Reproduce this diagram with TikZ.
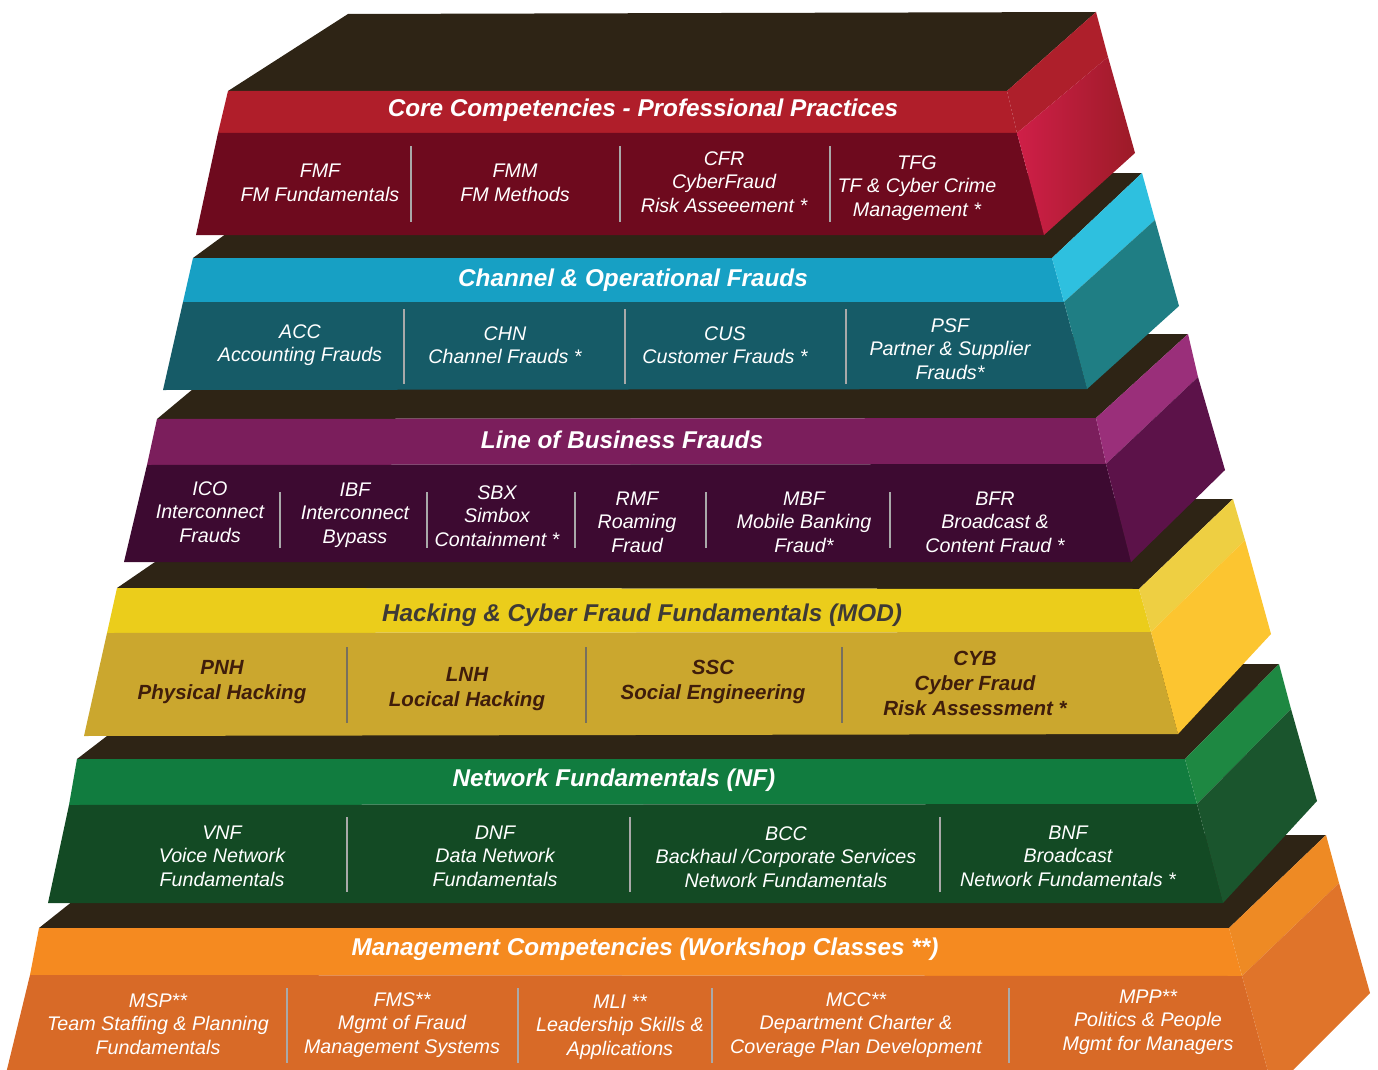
\documentclass[tikz,border=0pt]{standalone}
\usepackage{fontspec}
\setmainfont{Liberation Sans}
\usepackage{tikz}

\definecolor{topbrown}{HTML}{2E2415}
\definecolor{divgrey}{HTML}{A9A9A9}
\definecolor{divdark}{HTML}{77705E}
\definecolor{redhead}{HTML}{B01E2A}
\definecolor{redbody}{HTML}{6E0A1E}
\definecolor{redside}{HTML}{AE1F2B}
\definecolor{redlow}{HTML}{CF1F48}
\definecolor{redlowr}{HTML}{9C1B27}
\definecolor{tealhead}{HTML}{17A0C4}
\definecolor{tealbody}{HTML}{165B67}
\definecolor{tealside}{HTML}{2EC0DF}
\definecolor{teallow}{HTML}{1F7E84}
\definecolor{purphead}{HTML}{7B1E5C}
\definecolor{purpbody}{HTML}{3D0A31}
\definecolor{purpside}{HTML}{9A2F7A}
\definecolor{purplow}{HTML}{5C1249}
\definecolor{yelhead}{HTML}{EBCD1B}
\definecolor{yelbody}{HTML}{CBA72E}
\definecolor{yelside}{HTML}{EECF42}
\definecolor{yellow2}{HTML}{FCC530}
\definecolor{yeltext}{HTML}{3F1D0B}
\definecolor{yelhtext}{HTML}{3E3A36}
\definecolor{grnhead}{HTML}{117C3F}
\definecolor{grnbody}{HTML}{134A24}
\definecolor{grnside}{HTML}{1E8842}
\definecolor{grnlow}{HTML}{1A552D}
\definecolor{orahead}{HTML}{F58A20}
\definecolor{orabody}{HTML}{D86A27}
\definecolor{oraside}{HTML}{EE8A24}
\definecolor{oralow}{HTML}{E0742A}

\tikzset{
	topface/.style={fill=topbrown},
	headtext/.style={font=\fontsize{24.3}{29}\selectfont\bfseries\itshape, text=white, inner sep=0pt},
	bodytext/.style={font=\fontsize{19.7}{23.5}\selectfont\itshape, text=white, align=center, inner sep=0pt},
	modtext/.style={font=\fontsize{20.5}{25}\selectfont\bfseries\itshape, text=yeltext, align=center, inner sep=0pt},
	divider/.style={draw=divgrey, line width=2pt},
}

\begin{document}
\begin{tikzpicture}[x=1pt,y=-1pt]
	\clip (0,0) rectangle (1378,1070);

	% Management Competencies
	\fill[topface] (39,928) -- (1229,928) -- (1326,835) -- (156,835) -- cycle;
	\fill[orahead] (39,928) -- (1229,928) -- (1242,976) -- (30,975) -- cycle;
	\fill[orabody] (30,975) -- (1242,976) -- (1273,1090) -- (2,1090) -- cycle;
	\fill[oraside] (1229,928) -- (1326,835) -- (1339,883) -- (1242,976) -- cycle;
	\fill[oralow] (1242,976) -- (1339,883) -- (1370,993) -- (1273,1090) -- cycle;
	\foreach \x in {287,518,712,1009}
		\draw[divider] (\x,988) -- (\x,1063);
	\node[headtext] (mgmt) at (645,949) {Management Competencies (Workshop Classes **)};
	\node[bodytext] (msp) at (158,1024) {MSP**\\Team Staffing \& Planning\\Fundamentals};
	\node[bodytext] (fms) at (402,1025) {FMS**\\Mgmt of Fraud\\Management Systems};
	\node[bodytext] (mli) at (620,1027) {MLI **\\Leadership Skills \&\\Applications};
	\node[bodytext] (mcc) at (856,1025) {MCC**\\Department Charter \&\\Coverage Plan Development};
	\node[bodytext] (mpp) at (1148,1022) {MPP**\\Politics \& People\\Mgmt for Managers};

	% Network Fundamentals
	\fill[topface] (77,759) -- (1185,759) -- (1279,664) -- (201,664) -- cycle;
	\fill[grnhead] (77,759) -- (1185,759) -- (1197,804) -- (69,805) -- cycle;
	\fill[grnbody] (69,805) -- (1197,804) -- (1223,903) -- (48,903) -- cycle;
	\fill[grnside] (1185,759) -- (1279,664) -- (1291,709) -- (1197,804) -- cycle;
	\fill[grnlow] (1197,804) -- (1291,709) -- (1317,801) -- (1223,903) -- cycle;
	\foreach \x in {347,630,940}
		\draw[divider] (\x,817) -- (\x,892);
	\node[headtext] (netf) at (614,780) {Network Fundamentals (NF)};
	\node[bodytext] (vnf) at (222,856) {VNF\\Voice Network\\Fundamentals};
	\node[bodytext] (dnf) at (495,856) {DNF\\Data Network\\Fundamentals};
	\node[bodytext] (bcc) at (786,857) {BCC\\Backhaul /Corporate Services\\Network Fundamentals};
	\node[bodytext] (bnf) at (1068,856) {BNF\\Broadcast\\Network Fundamentals *};

	% Hacking & Cyber Fraud
	\fill[topface] (117,588) -- (1139,589) -- (1233,499) -- (247,499) -- cycle;
	\fill[yelhead] (117,588) -- (1139,589) -- (1151,632) -- (107,633) -- cycle;
	\fill[yelbody] (107,633) -- (1151,632) -- (1178,734) -- (84,736) -- cycle;
	\fill[yelside] (1139,589) -- (1233,499) -- (1245,540) -- (1151,632) -- cycle;
	\fill[yellow2] (1151,632) -- (1245,540) -- (1271,634) -- (1178,734) -- cycle;
	\foreach \x in {347,586,842}
		\draw[divider, draw=divdark] (\x,647) -- (\x,723);
	\node[headtext, text=yelhtext] (hack) at (642,615) {Hacking \& Cyber Fraud Fundamentals (MOD)};
	\node[modtext] (pnh) at (222,682) {PNH\\Physical Hacking};
	\node[modtext] (lnh) at (467,689) {LNH\\Locical Hacking};
	\node[modtext] (ssc) at (713,682) {SSC\\Social Engineering};
	\node[modtext] (cyb) at (975,683) {CYB\\Cyber Fraud\\Risk Assessment *};

	% Line of Business Frauds
	\fill[topface] (157,419) -- (1096,418) -- (1188,334) -- (259,334) -- cycle;
	\fill[purphead] (157,419) -- (1096,418) -- (1106,464) -- (147,465) -- cycle;
	\fill[purpbody] (147,465) -- (1106,464) -- (1131,562) -- (124,562) -- cycle;
	\fill[purpside] (1096,418) -- (1188,334) -- (1198,377) -- (1106,464) -- cycle;
	\fill[purplow] (1106,464) -- (1198,377) -- (1225,470) -- (1131,562) -- cycle;
	\foreach \x in {280,427,575,706,890}
		\draw[divider] (\x,492) -- (\x,548);
	\node[headtext] (lob) at (622,440) {Line of Business Frauds};
	\node[bodytext] (ico) at (210,512) {ICO\\Interconnect\\Frauds};
	\node[bodytext] (ibf) at (355,515) {IBF\\Interconnect\\Bypass};
	\node[bodytext] (sbx) at (497,516) {SBX\\Simbox\\Containment *};
	\node[bodytext] (rmf) at (637,522) {RMF\\Roaming\\Fraud};
	\node[bodytext] (mbf) at (804,522) {MBF\\Mobile Banking\\Fraud*};
	\node[bodytext] (bfr) at (995,522) {BFR\\Broadcast \&\\Content Fraud *};

	% Channel & Operational Frauds
	\fill[topface] (193,258) -- (1052,258) -- (1142,173) -- (309,173) -- cycle;
	\fill[tealhead] (193,258) -- (1052,258) -- (1064,302) -- (183,302) -- cycle;
	\fill[tealbody] (183,302) -- (1064,302) -- (1087,389) -- (163,390) -- cycle;
	\fill[tealside] (1052,258) -- (1142,173) -- (1155,220) -- (1064,302) -- cycle;
	\fill[teallow] (1064,302) -- (1155,220) -- (1179,306) -- (1087,389) -- cycle;
	\foreach \x in {404,625,846}
		\draw[divider] (\x,309) -- (\x,384);
	\node[headtext] (chan) at (633,280) {Channel \& Operational Frauds};
	\node[bodytext] (acc) at (300,345) {ACC\\Accounting Frauds};
	\node[bodytext] (chn) at (505,345) {CHN\\Channel Frauds *};
	\node[bodytext] (cus) at (725,345) {CUS\\Customer Frauds *};
	\node[bodytext] (psf) at (950,349) {PSF\\Partner \& Supplier\\Frauds*};

	% Core Competencies
	\fill[topface] (228,91) -- (1007,91) -- (1096,12) -- (348,14) -- cycle;
	\fill[redhead] (228,91) -- (1007,91) -- (1017,133) -- (218,133) -- cycle;
	\fill[redbody] (218,133) -- (1017,133) -- (1044,235) -- (196,235) -- cycle;
	\fill[redside] (1007,91) -- (1096,12) -- (1108,57) -- (1017,133) -- cycle;
	\shade[left color=redlow, right color=redlowr] (1017,133) -- (1108,57) -- (1135,153) -- (1044,235) -- cycle;
	\foreach \x in {411,620,830}
		\draw[divider] (\x,146) -- (\x,222);
	\node[headtext] (core) at (643,110) {Core Competencies - Professional Practices};
	\node[bodytext] (fmf) at (320,183) {FMF\\FM Fundamentals};
	\node[bodytext] (fmm) at (515,183) {FMM\\FM Methods};
	\node[bodytext] (cfr) at (724,182) {CFR\\CyberFraud\\Risk Asseeement *};
	\node[bodytext] (tfg) at (917,188) {TFG\\TF \& Cyber Crime\\Management *};
\end{tikzpicture}
\end{document}
